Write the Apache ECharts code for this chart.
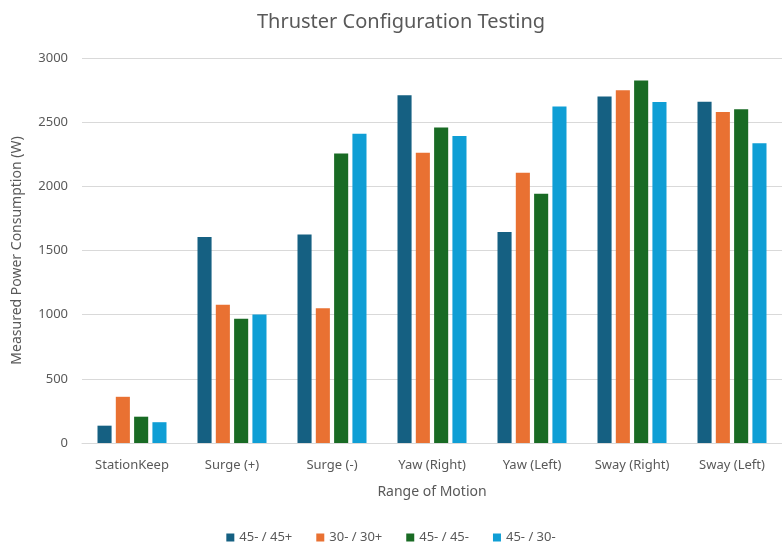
<!DOCTYPE html>
<html>
<head>
<meta charset="utf-8">
<script src="https://cdn.jsdelivr.net/npm/echarts@6/dist/echarts.min.js"></script>
<style>
  html, body { margin: 0; padding: 0; background: #fff; }
  #chart { width: 782px; height: 547px; }
</style>
</head>
<body>
<div id="chart"></div>
<script>
// data
const categories = ['StationKeep', 'Surge (+)', 'Surge (-)', 'Yaw (Right)', 'Yaw (Left)', 'Sway (Right)', 'Sway (Left)']
const seriesNames = ['45- / 45+', '30- / 30+', '45- / 45-', '45- / 30-']
const cfg4545p = [135, 1605, 1625, 2710, 1645, 2700, 2660]
const cfg3030p = [360, 1078, 1050, 2262, 2105, 2748, 2580]
const cfg4545m = [205, 968, 2255, 2458, 1942, 2825, 2600]
const cfg4530m = [162, 1002, 2410, 2392, 2622, 2658, 2336]
const yTicks = [0, 500, 1000, 1500, 2000, 2500, 3000]

const colors = ['#156082', '#E97132', '#196B24', '#0F9ED5']
const textColor = '#595959'
const font = '"Noto Sans", "Open Sans", sans-serif'

const chart = echarts.init(document.getElementById('chart'))
const values = [cfg4545p, cfg3030p, cfg4545m, cfg4530m]

chart.setOption({
  animation: false,
  color: colors,
  textStyle: { fontFamily: font },
  title: {
    text: 'Thruster Configuration Testing',
    left: 396,
    top: 7,
    textAlign: 'center',
    textStyle: { color: textColor, fontSize: 20, fontWeight: 'normal', fontFamily: font }
  },
  legend: {
    data: seriesNames,
    bottom: -2,
    left: 'center',
    itemWidth: 8,
    itemHeight: 8,
    itemGap: 24,
    icon: 'rect',
    textStyle: { color: textColor, fontSize: 13, fontFamily: font }
  },
  grid: {
    left: 82,
    right: -10,
    top: 58,
    bottom: 104
  },
  xAxis: {
    type: 'category',
    data: categories,
    name: 'Range of Motion',
    nameLocation: 'middle',
    nameGap: 42,
    nameTextStyle: { color: textColor, fontSize: 14, fontFamily: font },
    axisLine: { lineStyle: { color: '#d9d9d9' } },
    axisTick: { show: false },
    axisLabel: { color: textColor, fontSize: 13, margin: 16, fontFamily: font }
  },
  yAxis: {
    type: 'value',
    min: yTicks[0],
    max: yTicks[yTicks.length - 1],
    interval: 500,
    name: 'Measured Power Consumption (W)',
    nameLocation: 'middle',
    nameGap: 58,
    nameTextStyle: { color: textColor, fontSize: 14, fontFamily: font },
    axisLabel: { color: textColor, fontSize: 13, margin: 14, fontFamily: font, formatter: v => String(v) },
    splitLine: { lineStyle: { color: '#d9d9d9' } },
    axisLine: { show: false },
    axisTick: { show: false }
  },
  series: seriesNames.map((name, i) => ({
    name: name,
    type: 'bar',
    data: values[i],
    barGap: '30%',
    barCategoryGap: '31%'
  }))
})
</script>
</body>
</html>
